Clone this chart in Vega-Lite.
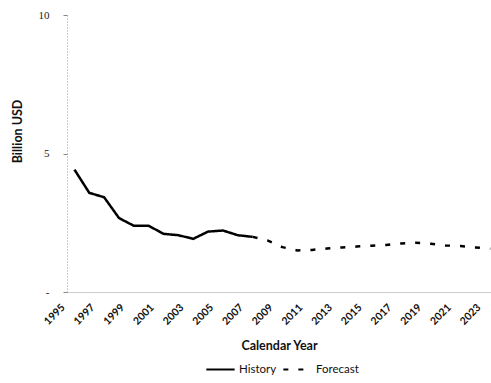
{
  "$schema": "https://vega.github.io/schema/vega-lite/v6.json",
  "width": 424,
  "height": 277,
  "autosize": {"type": "none"},
  "padding": {"left": 67, "top": 15, "right": 0, "bottom": 91},
  "background": "white",
  "config": {"view": {"stroke": null}, "font": "Lato"},
  "data": {
    "values": [
      {"year": 1995, "value": 4.42, "series": "History"},
      {"year": 1996, "value": 3.58, "series": "History"},
      {"year": 1997, "value": 3.42, "series": "History"},
      {"year": 1998, "value": 2.67, "series": "History"},
      {"year": 1999, "value": 2.39, "series": "History"},
      {"year": 2000, "value": 2.39, "series": "History"},
      {"year": 2001, "value": 2.1, "series": "History"},
      {"year": 2002, "value": 2.05, "series": "History"},
      {"year": 2003, "value": 1.92, "series": "History"},
      {"year": 2004, "value": 2.18, "series": "History"},
      {"year": 2005, "value": 2.22, "series": "History"},
      {"year": 2006, "value": 2.05, "series": "History"},
      {"year": 2007, "value": 1.99, "series": "History"},
      {"year": 2007, "value": 1.99, "series": "Forecast"},
      {"year": 2008, "value": 1.86, "series": "Forecast"},
      {"year": 2009, "value": 1.62, "series": "Forecast"},
      {"year": 2010, "value": 1.5, "series": "Forecast"},
      {"year": 2011, "value": 1.52, "series": "Forecast"},
      {"year": 2012, "value": 1.57, "series": "Forecast"},
      {"year": 2013, "value": 1.61, "series": "Forecast"},
      {"year": 2014, "value": 1.64, "series": "Forecast"},
      {"year": 2015, "value": 1.67, "series": "Forecast"},
      {"year": 2016, "value": 1.7, "series": "Forecast"},
      {"year": 2017, "value": 1.75, "series": "Forecast"},
      {"year": 2018, "value": 1.78, "series": "Forecast"},
      {"year": 2019, "value": 1.74, "series": "Forecast"},
      {"year": 2020, "value": 1.68, "series": "Forecast"},
      {"year": 2021, "value": 1.66, "series": "Forecast"},
      {"year": 2022, "value": 1.61, "series": "Forecast"},
      {"year": 2023, "value": 1.56, "series": "Forecast"}
    ]
  },
  "mark": {"type": "line", "color": "black", "strokeWidth": 2.5},
  "encoding": {
    "x": {
      "field": "year",
      "type": "quantitative",
      "scale": {"domain": [1994.5, 2023.05], "nice": false, "zero": false},
      "axis": {
        "values": [1995, 1997, 1999, 2001, 2003, 2005, 2007, 2009, 2011, 2013, 2015, 2017, 2019, 2021, 2023],
        "format": "d",
        "labelAngle": -45,
        "labelFontSize": 10.5,
        "labelColor": "#111",
        "labelFontWeight": "bold",
        "labelFlush": false,
        "labelOverlap": false,
        "labelBound": false,
        "labelOffset": -15,
        "grid": false,
        "domainColor": "#999",
        "domainDash": [1, 1],
        "ticks": false,
        "labelPadding": 10,
        "title": "Calendar Year",
        "titleFontSize": 12.5,
        "titleFontWeight": "bold",
        "titleColor": "#111",
        "titlePadding": 13,
        "titleX": 212
      }
    },
    "y": {
      "field": "value",
      "type": "quantitative",
      "scale": {"domain": [0, 10], "nice": false},
      "axis": {
        "values": [0, 5, 10],
        "labelExpr": "datum.value == 0 ? '-' : datum.label",
        "labelFont": "Liberation Serif",
        "labelFontSize": 11,
        "labelColor": "#222",
        "grid": false,
        "domainColor": "#999",
        "domainDash": [1, 2],
        "tickColor": "#888",
        "tickSize": 4,
        "labelPadding": 14,
        "title": "Billion USD",
        "titleFontSize": 12.5,
        "titleFontWeight": "bold",
        "titleColor": "#111",
        "titlePadding": 14,
        "titleY": 116
      }
    },
    "strokeDash": {
      "field": "series",
      "type": "nominal",
      "scale": {"domain": ["History", "Forecast"], "range": [[1, 0], [5, 10]]},
      "legend": {
        "orient": "none",
        "legendX": 138,
        "legendY": 339,
        "direction": "horizontal",
        "title": null,
        "symbolType": "stroke",
        "symbolStrokeColor": "black",
        "symbolStrokeWidth": 2,
        "symbolSize": 800,
        "labelFontSize": 11.5,
        "labelColor": "#111",
        "labelOffset": 3,
        "columnPadding": 2
      }
    }
  }
}
